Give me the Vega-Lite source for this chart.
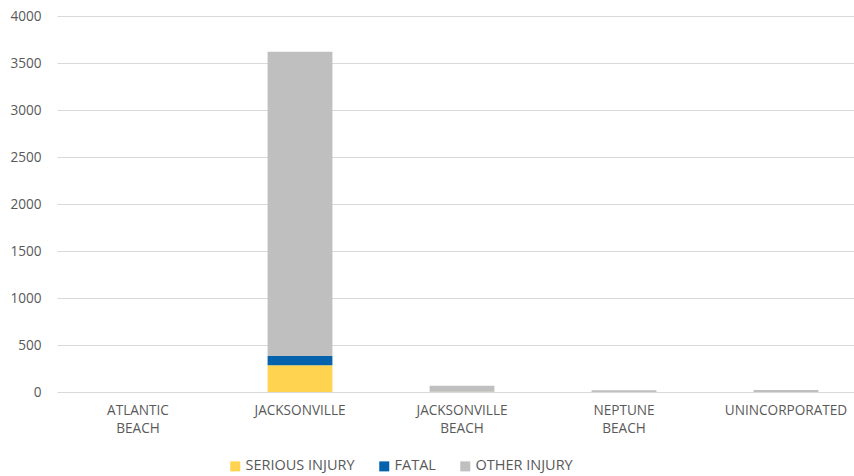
{
  "$schema": "https://vega.github.io/schema/vega-lite/v6.json",
  "width": 797,
  "height": 376,
  "autosize": {"type": "none"},
  "padding": {"left": 57, "top": 16, "right": 0, "bottom": 84},
  "background": "white",
  "config": {
    "view": {"stroke": null},
    "font": "Open Sans",
    "axis": {"labelFont": "Open Sans", "labelColor": "#595959", "labelFontSize": 13.6}
  },
  "data": {
    "values": [
      {"city": "ATLANTIC BEACH", "type": "SERIOUS INJURY", "k": 1, "count": 0},
      {"city": "ATLANTIC BEACH", "type": "FATAL", "k": 2, "count": 0},
      {"city": "ATLANTIC BEACH", "type": "OTHER INJURY", "k": 3, "count": 1},
      {"city": "JACKSONVILLE", "type": "SERIOUS INJURY", "k": 1, "count": 285},
      {"city": "JACKSONVILLE", "type": "FATAL", "k": 2, "count": 98},
      {"city": "JACKSONVILLE", "type": "OTHER INJURY", "k": 3, "count": 3237},
      {"city": "JACKSONVILLE BEACH", "type": "SERIOUS INJURY", "k": 1, "count": 2},
      {"city": "JACKSONVILLE BEACH", "type": "FATAL", "k": 2, "count": 0},
      {"city": "JACKSONVILLE BEACH", "type": "OTHER INJURY", "k": 3, "count": 64},
      {"city": "NEPTUNE BEACH", "type": "SERIOUS INJURY", "k": 1, "count": 1},
      {"city": "NEPTUNE BEACH", "type": "FATAL", "k": 2, "count": 0},
      {"city": "NEPTUNE BEACH", "type": "OTHER INJURY", "k": 3, "count": 18},
      {"city": "UNINCORPORATED", "type": "SERIOUS INJURY", "k": 1, "count": 1},
      {"city": "UNINCORPORATED", "type": "FATAL", "k": 2, "count": 0},
      {"city": "UNINCORPORATED", "type": "OTHER INJURY", "k": 3, "count": 20}
    ]
  },
  "mark": {"type": "bar"},
  "encoding": {
    "x": {
      "field": "city",
      "type": "nominal",
      "sort": null,
      "scale": {"range": [0, 810], "paddingInner": 0.6, "paddingOuter": 0.3},
      "axis": {
        "title": null,
        "labelAngle": 0,
        "domain": false,
        "ticks": false,
        "labelPadding": 11,
        "labelLineHeight": 18,
        "labelExpr": "split(datum.label, ' ')"
      }
    },
    "y": {
      "field": "count",
      "type": "quantitative",
      "stack": "zero",
      "scale": {"domain": [0, 4000], "nice": false},
      "axis": {
        "title": null,
        "format": "d",
        "values": [0, 500, 1000, 1500, 2000, 2500, 3000, 3500, 4000],
        "domain": false,
        "ticks": false,
        "labelPadding": 16,
        "gridColor": "#D9D9D9",
        "gridWidth": 1
      }
    },
    "color": {
      "field": "type",
      "type": "nominal",
      "sort": ["SERIOUS INJURY", "FATAL", "OTHER INJURY"],
      "scale": {"domain": ["SERIOUS INJURY", "FATAL", "OTHER INJURY"], "range": ["#FFD34F", "#0562AD", "#BFBFBF"]},
      "legend": {
        "title": null,
        "orient": "none",
        "direction": "horizontal",
        "legendX": 171,
        "legendY": 443,
        "symbolType": "square",
        "symbolSize": 100,
        "symbolStrokeWidth": 0,
        "labelFont": "Open Sans",
        "labelFontSize": 14.5,
        "labelColor": "#595959",
        "labelOffset": 3,
        "columnPadding": 22
      }
    },
    "order": {"field": "k", "type": "quantitative"}
  }
}
